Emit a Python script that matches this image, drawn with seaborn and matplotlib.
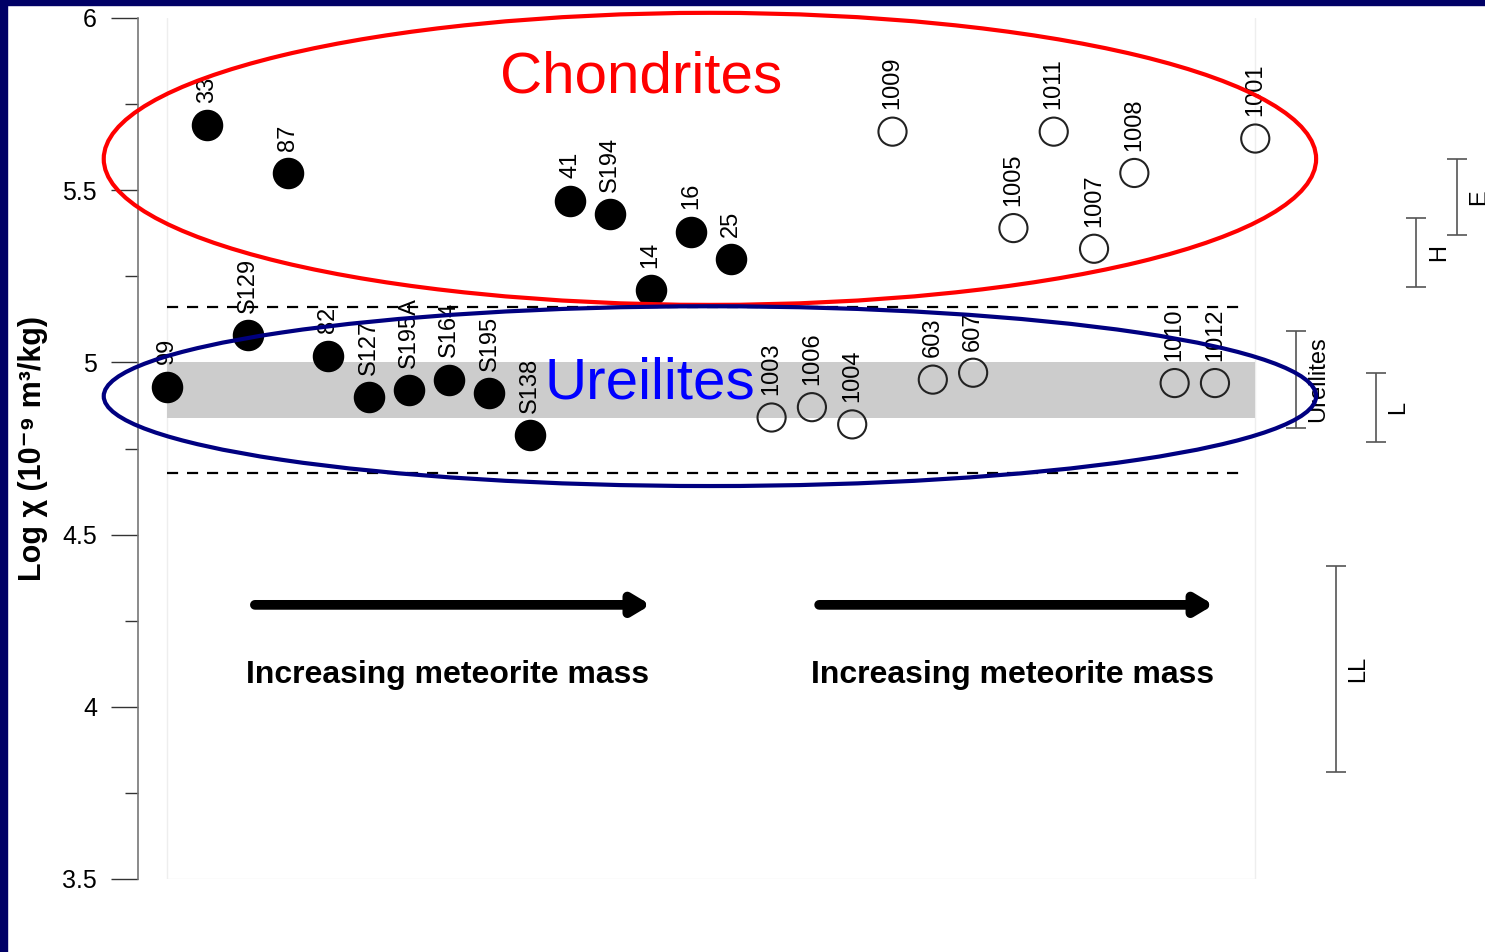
import pandas as pd
import seaborn as sns
import matplotlib.pyplot as plt
from matplotlib.patches import Ellipse, Rectangle

# sample ids and log susceptibility, in plotting order
samples = ["99", "33", "S129", "87", "82", "S127", "S195A", "S164", "S195", "S138",
           "41", "S194", "14", "16", "25",
           "1003", "1006", "1004", "1009", "603", "607", "1005", "1011", "1007",
           "1008", "1010", "1012", "1001"]
log_chi = [4.93, 5.69, 5.08, 5.55, 5.02, 4.90, 4.92, 4.95, 4.91, 4.79,
           5.47, 5.43, 5.21, 5.38, 5.30,
           4.84, 4.87, 4.82, 5.67, 4.95, 4.97, 5.39, 5.67, 5.33,
           5.55, 4.94, 4.94, 5.65]
filled = [True] * 15 + [False] * 13

# reference ranges drawn on the right
range_names = ["Ureilites", "LL", "L", "H", "E"]
range_low = [4.81, 3.81, 4.77, 5.22, 5.37]
range_high = [5.09, 4.41, 4.97, 5.42, 5.59]

ureilite_band = (4.84, 5.00)
ureilite_limits = [4.68, 5.16]

df = pd.DataFrame({"sample": samples, "log_chi": log_chi, "filled": filled})
df["pos"] = range(1, len(df) + 1)

sns.set_theme(style="white")
plt.rcParams["font.family"] = ["Liberation Sans", "DejaVu Sans"]
plt.rcParams["text.color"] = "black"
plt.rcParams["axes.labelcolor"] = "black"
plt.rcParams["ytick.color"] = "black"

fig = plt.figure(figsize=(14.85, 9.52), dpi=100)
ax = fig.add_axes([138 / 1485, 73 / 952, 1 - 138 / 1485, 861 / 952])

# faint plot region (no top edge) and ureilite band
ax.plot([1, 1, len(df), len(df)], [6, 3.5, 3.5, 6], color="#eeeeee", lw=1, zorder=0)
ax.fill_between([1, len(df)], ureilite_band[0], ureilite_band[1], color="#cccccc", lw=0, zorder=1)

sns.scatterplot(data=df[df["filled"]], x="pos", y="log_chi", ax=ax, s=470,
                color="black", edgecolor="black", linewidth=1, zorder=3, legend=False)
sns.scatterplot(data=df[~df["filled"]], x="pos", y="log_chi", ax=ax, s=410,
                facecolor="none", edgecolor="#222222", linewidth=1.5, zorder=3, legend=False)

for _, r in df.iterrows():
    ax.annotate(r["sample"], (r["pos"], r["log_chi"]), xytext=(0, 16), textcoords="offset points",
                rotation=90, ha="center", va="bottom", fontsize=17, color="black", zorder=4)

ax.hlines(ureilite_limits, 1, 27.6, colors="black", linestyles=(0, (5, 4)), lw=1.6, zorder=5)

# group ellipses
ax.add_patch(Ellipse((14.47, 5.591), 30.08, 0.848, fill=False, edgecolor="#ff0000", lw=3, zorder=6, clip_on=False))
ax.add_patch(Ellipse((14.47, 4.902), 30.08, 0.522, fill=False, edgecolor="#000080", lw=3, zorder=6, clip_on=False))
ax.text(12.76, 5.826, "Chondrites", color="#ff0000", fontsize=42, ha="center", va="center", zorder=7)
ax.text(12.98, 4.94, "Ureilites", color="#0000ff", fontsize=42, ha="center", va="center", zorder=7)

# mass arrows
for x0, x1, xt in [(3.18, 13.0, 7.97), (17.18, 26.97, 21.97)]:
    ax.annotate("", xy=(x1, 4.296), xytext=(x0, 4.296),
                arrowprops=dict(arrowstyle="-|>,head_length=0.5,head_width=0.3", lw=7,
                                color="black", shrinkA=0, shrinkB=0, mutation_scale=20))
    ax.text(xt, 4.092, "Increasing meteorite mass", fontsize=23, fontweight="bold",
            ha="center", va="center", color="black")

# range bars
for i, (name, lo, hi) in enumerate(zip(range_names, range_low, range_high)):
    xb = 29 + i
    mid = (lo + hi) / 2
    ax.errorbar([xb], [mid], yerr=[[mid - lo], [hi - mid]], fmt="none", ecolor="#555555",
                elinewidth=1.2, capsize=7, capthick=1.2, clip_on=False)
    ax.text(xb + 0.55, mid, name, rotation=90, ha="center", va="center", fontsize=17,
            color="black", clip_on=False)

ax.set_xlim(0.28, 33.7)
ax.set_ylim(3.5, 6)
ax.set_yticks([3.5, 4, 4.5, 5, 5.5, 6])
ax.set_yticklabels(["3.5", "4", "4.5", "5", "5.5", "6"])
ax.set_yticks([3.75, 4.25, 4.75, 5.25, 5.75], minor=True)
ax.set_xticks([])
ax.set_xlabel("")
ax.set_ylabel("Log χ (10⁻⁹ m³/kg)", fontsize=22, fontweight="bold", labelpad=10)
ax.tick_params(axis="y", which="major", left=True, length=19.5, width=1, color="#333333",
               pad=10, labelsize=18, labelcolor="black")
ax.tick_params(axis="y", which="minor", left=True, length=9.5, width=1, color="#333333")
for side in ["top", "right", "bottom"]:
    ax.spines[side].set_visible(False)
ax.spines["left"].set_color("#777777")
ax.spines["left"].set_linewidth(1.2)
ax.patch.set_alpha(0)

# navy frame
fig.add_artist(Rectangle((0, 0), 7 / 1485, 1, transform=fig.transFigure, color="#000066", zorder=10))
fig.add_artist(Rectangle((0, 1 - 5 / 952), 1, 5 / 952, transform=fig.transFigure, color="#000066", zorder=10))

fig.savefig("out.png", dpi=100, facecolor="white")
